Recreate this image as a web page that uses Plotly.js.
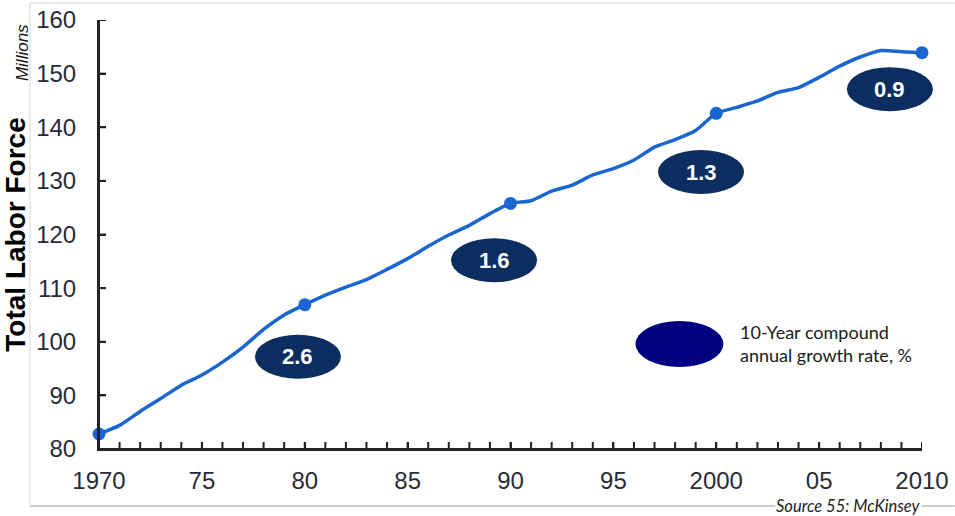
<!DOCTYPE html>
<html>
<head>
<meta charset="utf-8">
<script src="https://cdn.plot.ly/plotly-3.0.1.min.js"></script>
<style>
  html, body { margin: 0; padding: 0; background: #fff; }
  #chart { width: 955px; height: 516px; }
</style>
</head>
<body>
<div id="chart"></div>
<script>
// US total labor force, millions, 1970-2010
const years = [1970,1971,1972,1973,1974,1975,1976,1977,1978,1979,
               1980,1981,1982,1983,1984,1985,1986,1987,1988,1989,
               1990,1991,1992,1993,1994,1995,1996,1997,1998,1999,
               2000,2001,2002,2003,2004,2005,2006,2007,2008,2009,2010];
const laborForce = [82.8,84.4,87.0,89.4,91.9,93.8,96.2,99.0,102.3,105.0,
                    106.9,108.7,110.2,111.6,113.5,115.5,117.8,119.9,121.7,123.9,
                    125.8,126.3,128.1,129.2,131.1,132.3,133.9,136.3,137.7,139.4,
                    142.6,143.7,144.9,146.5,147.4,149.3,151.4,153.1,154.3,154.1,153.9];

// 10-year compound annual growth rate, % (one badge per decade)
const cagrLabels = ['2.6', '1.6', '1.3', '0.9'];
const cagrX = [1979.67, 1989.2, 1999.26, 2008.44];
const cagrY = [97.2, 115.2, 131.65, 147.1];

// x tick labels shown every five years
const labelYears = [1970, 1975, 1980, 1985, 1990, 1995, 2000, 2005, 2010];
const labelText = ['1970', '75', '80', '85', '90', '95', '2000', '05', '2010'];
const yTickValues = [80, 90, 100, 110, 120, 130, 140, 150, 160];

const xRange = [1970, 2010];
const yRange = [80, 160];

const decadeYears = years.filter(y => y % 10 === 0);
const decadeValues = decadeYears.map(y => laborForce[years.indexOf(y)]);

// badges may overhang the plot edge, so place them in paper space
const toPaperX = v => (v - xRange[0]) / (xRange[1] - xRange[0]);
const toPaperY = v => (v - yRange[0]) / (yRange[1] - yRange[0]);

const lineBlue = '#1a66d0';
const badgeNavy = '#0b2d5f';
const axisInk = '#222222';

const traces = [
  {
    x: years, y: laborForce, type: 'scatter', mode: 'lines',
    line: { color: lineBlue, width: 3.5, shape: 'spline', smoothing: 0.6 },
    hoverinfo: 'x+y', cliponaxis: false
  },
  {
    x: decadeYears, y: decadeValues, type: 'scatter', mode: 'markers',
    marker: { color: lineBlue, size: 13 }, cliponaxis: false
  }
];

const shapes = [];
const annotations = [];

// axis lines and inward ticks (yearly on x, every 10 million on y)
shapes.push(
  { type: 'line', xref: 'paper', yref: 'paper', x0: 0, x1: 1, y0: 0, y1: 0,
    line: { color: axisInk, width: 2 } },
  { type: 'line', xref: 'paper', yref: 'paper', x0: 0, x1: 0, y0: 0, y1: 1,
    line: { color: axisInk, width: 2 } }
);
years.forEach(yr => {
  shapes.push({
    type: 'line', xref: 'x', yref: 'paper', ysizemode: 'pixel', yanchor: 0,
    x0: yr, x1: yr, y0: 0, y1: 7, line: { color: axisInk, width: 2 }
  });
});
yTickValues.forEach(v => {
  shapes.push({
    type: 'line', xref: 'paper', yref: 'y', xsizemode: 'pixel', xanchor: 0,
    x0: 0, x1: 7, y0: v, y1: v, line: { color: axisInk, width: 2 }
  });
});

cagrLabels.forEach((t, i) => {
  const px = toPaperX(cagrX[i]);
  const py = toPaperY(cagrY[i]);
  shapes.push({
    type: 'circle', xref: 'paper', yref: 'paper',
    xsizemode: 'pixel', ysizemode: 'pixel',
    xanchor: px, yanchor: py,
    x0: -43, x1: 43, y0: -22, y1: 22,
    fillcolor: badgeNavy, line: { width: 0 }
  });
  annotations.push({
    x: px, y: py, xref: 'paper', yref: 'paper',
    xanchor: 'center', yanchor: 'middle',
    text: '<b>' + t + '</b>', showarrow: false,
    font: { family: 'Liberation Sans, Arial, sans-serif', size: 22, color: '#ffffff' }
  });
});

// key: badge meaning
shapes.push({
  type: 'circle', xref: 'paper', yref: 'paper',
  xsizemode: 'pixel', ysizemode: 'pixel',
  xanchor: 0.7053, yanchor: 0.2448,
  x0: -44, x1: 44, y0: -23, y1: 23,
  fillcolor: '#000080', line: { width: 0 }
});
annotations.push({
  x: 0.7767, y: 0.2448, xref: 'paper', yref: 'paper',
  xanchor: 'left', yanchor: 'middle', align: 'left',
  text: '10-Year compound<br>annual growth rate, %', showarrow: false,
  font: { family: 'Lato, Open Sans, sans-serif', size: 18, color: '#1a1a1a' }
});

// outer frame lines
shapes.push(
  { type: 'line', xref: 'paper', yref: 'paper', x0: -0.0838, x1: 1.04, y0: 1.0396, y1: 1.0396,
    line: { color: '#e2e2e2', width: 1.5 } },
  { type: 'line', xref: 'paper', yref: 'paper', x0: -0.0838, x1: -0.0838, y0: -0.1329, y1: 1.0396,
    line: { color: '#e6e6e6', width: 1.5 } },
  { type: 'line', xref: 'paper', yref: 'paper', x0: -0.0838, x1: 1.04, y0: -0.1329, y1: -0.1329,
    line: { color: '#9a9a9a', width: 1 } }
);

annotations.push(
  {
    x: -0.0935, y: 0.923, xref: 'paper', yref: 'paper',
    xanchor: 'center', yanchor: 'middle',
    text: '<i>Millions</i>', showarrow: false, textangle: -90,
    font: { family: 'Liberation Sans, Arial, sans-serif', size: 17, color: '#111' }
  },
  {
    x: 1.0, y: -0.1329, xref: 'paper', yref: 'paper',
    xanchor: 'right', yanchor: 'middle',
    text: '<i>Source 55: McKinsey</i>', showarrow: false,
    bgcolor: '#ffffff', borderpad: 0,
    font: { family: 'Lato, Open Sans, sans-serif', size: 16.5, color: '#222' }
  }
);

const tickFont = { family: 'Liberation Sans, Arial, sans-serif', size: 24, color: '#2a2a38' };

const layout = {
  width: 955, height: 516,
  margin: { l: 99, r: 33, t: 20, b: 67 },
  paper_bgcolor: '#ffffff', plot_bgcolor: '#ffffff',
  showlegend: false,
  xaxis: {
    range: xRange, tickvals: labelYears, ticktext: labelText,
    ticks: 'inside', ticklen: 7, tickwidth: 2, tickcolor: axisInk,
    showline: true, linecolor: axisInk, linewidth: 2,
    showgrid: false, zeroline: false,
    tickfont: tickFont, ticklabelstandoff: 9, fixedrange: true
  },
  yaxis: {
    range: yRange, tickvals: yTickValues,
    ticks: 'inside', ticklen: 7, tickwidth: 2, tickcolor: axisInk,
    showline: true, linecolor: axisInk, linewidth: 2,
    showgrid: false, zeroline: false,
    tickfont: tickFont, ticklabelstandoff: 16,
    title: {
      text: '<b>Total Labor Force</b>', standoff: 4,
      font: { family: 'Liberation Sans, Arial, sans-serif', size: 28, color: '#000' }
    },
    fixedrange: true
  },
  shapes: shapes,
  annotations: annotations
};

Plotly.newPlot('chart', traces, layout, { displayModeBar: false, staticPlot: true });
</script>
</body>
</html>
